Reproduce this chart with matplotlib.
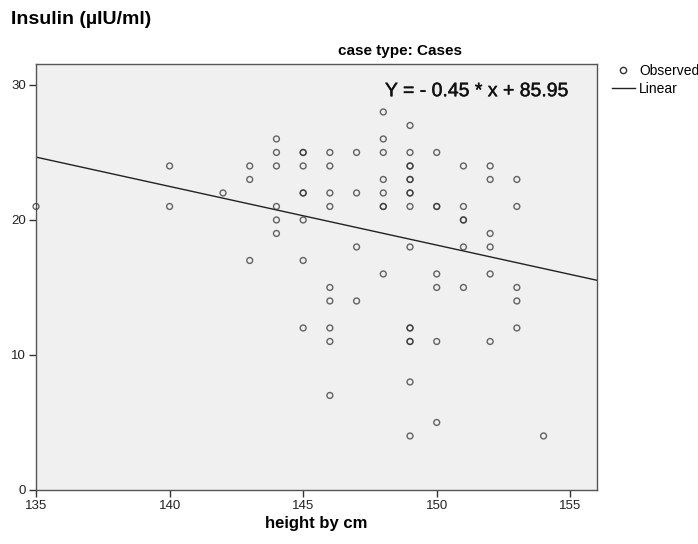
import matplotlib
matplotlib.use("Agg")
import matplotlib.pyplot as plt
import matplotlib.patheffects as pe
from matplotlib.lines import Line2D
import numpy as np

plt.rcParams['font.family'] = ['Liberation Sans', 'DejaVu Sans']

# --- data (duplicates show as darker circles) ---
heights = [135,
           140, 140,
           142,
           143, 143, 143,
           144, 144, 144, 144, 144, 144,
           145, 145, 145, 145, 145, 145, 145, 145,
           146, 146, 146, 146, 146, 146, 146, 146, 146,
           147, 147, 147, 147,
           148, 148, 148, 148, 148, 148, 148, 148,
           149, 149, 149, 149, 149, 149, 149, 149, 149, 149, 149, 149, 149, 149, 149, 149,
           150, 150, 150, 150, 150, 150, 150,
           151, 151, 151, 151, 151, 151,
           152, 152, 152, 152, 152, 152,
           153, 153, 153, 153, 153,
           154]
insulin = [21,
           24, 21,
           22,
           24, 23, 17,
           26, 25, 24, 21, 20, 19,
           25, 25, 24, 22, 22, 20, 17, 12,
           25, 24, 22, 21, 15, 14, 12, 11, 7,
           25, 22, 18, 14,
           28, 26, 25, 23, 22, 21, 21, 16,
           27, 25, 24, 24, 23, 23, 22, 22, 21, 18, 12, 12, 11, 11, 8, 4,
           25, 21, 21, 16, 15, 11, 5,
           24, 21, 20, 20, 18, 15,
           24, 23, 19, 18, 16, 11,
           23, 21, 15, 14, 12,
           4]
equation = "Y = - 0.45 * x + 85.95"
x_ticks = [135, 140, 145, 150, 155]
y_ticks = [0, 10, 20, 30]

# least-squares line through the observed points
slope, intercept = np.polyfit(heights, insulin, 1)

fig = plt.figure(figsize=(6.98, 5.44), dpi=100)
ax = fig.add_axes([0.0516, 0.0993, 0.8037, 0.783])
ax.set_facecolor('#f0f0f0')

ax.scatter(heights, insulin, s=18, facecolors='none', edgecolors=(0.2, 0.2, 0.2, 0.75),
           linewidths=1.0, zorder=3, clip_on=False)

x0, x1 = 135, 156
ax.plot([x0, x1], [slope * x0 + intercept, slope * x1 + intercept],
        color='#222222', lw=1.0, zorder=2)

ax.set_xlim(x0, x1)
ax.set_ylim(0, 31.55)
ax.set_xticks(x_ticks)
ax.set_yticks(y_ticks)
ax.tick_params(direction='out', length=5, width=1, pad=2, labelsize=9.5, colors='#333333',
               labelcolor='#222222', top=False, right=False)
for sp in ax.spines.values():
    sp.set_color('#555555')
    sp.set_linewidth(1.0)

ax.text(0.950, 0.935, equation, transform=ax.transAxes,
        ha='right', va='center', fontsize=14, color='#111111',
        path_effects=[pe.withStroke(linewidth=0.3, foreground='#111111')])

fig.text(400 / 698, 1 - 51 / 544, "case type: Cases", fontsize=11, fontweight='bold',
         ha='center', va='center')
ax.set_xlabel("height by cm", fontsize=12, fontweight='bold', labelpad=3)
fig.text(0.016, 1 - 20 / 544, "Insulin (µIU/ml)", fontsize=14, fontweight='bold',
         va='center')

handles = [Line2D([], [], marker='o', ls='none', mfc='none', mec='#333333', ms=4.5, mew=1.0),
           Line2D([], [], color='#222222', lw=1.0)]
fig.legend(handles, ["Observed", "Linear"], loc='upper left',
           bbox_to_anchor=(612 / 698, 1 - 64 / 544), frameon=False, fontsize=10,
           handlelength=1.65, handletextpad=0.3, labelspacing=0.3, borderpad=0,
           borderaxespad=0)

fig.savefig("out.png", dpi=100)
